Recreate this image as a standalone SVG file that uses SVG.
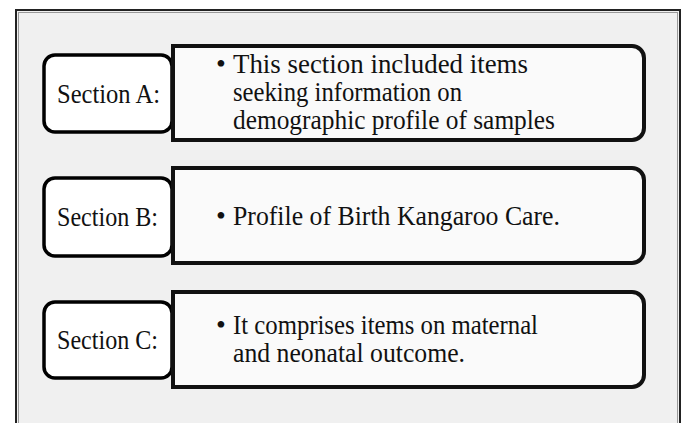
<svg xmlns="http://www.w3.org/2000/svg" width="686" height="423" viewBox="0 0 686 423">
<style>
.lbl{fill:#fff;stroke:#000;stroke-width:3.5}
.bar{fill:#fafafa;stroke:#111;stroke-width:4}
text{font-family:"Liberation Serif","DejaVu Serif",serif;font-size:28px;fill:#111}
</style>
<rect width="686" height="423" fill="#fff"/>
<rect x="16" y="10" width="664" height="420" fill="#f0f0f0" stroke="#222" stroke-width="2"/>
<rect x="18.5" y="12.5" width="659" height="420" fill="none" stroke="#999" stroke-width="1"/>
<g id="sectionA">
<rect class="lbl" x="44" y="55" width="128" height="77" rx="11"/>
<path class="bar" d="M173,46 H632 A12,12 0 0 1 644,58 V128 A12,12 0 0 1 632,140 H173 Z"/>
<text x="57" y="103" textLength="103" lengthAdjust="spacingAndGlyphs">Section A:</text>
<text x="216" y="73">•</text>
<text x="233" y="73" textLength="295" lengthAdjust="spacingAndGlyphs">This section included items</text>
<text x="233" y="101" textLength="229" lengthAdjust="spacingAndGlyphs">seeking information on</text>
<text x="233" y="129" textLength="322" lengthAdjust="spacingAndGlyphs">demographic profile of samples</text>
</g>
<g id="sectionB">
<rect class="lbl" x="44" y="178" width="128" height="78" rx="11"/>
<path class="bar" d="M173,168 H632 A12,12 0 0 1 644,180 V251 A12,12 0 0 1 632,263 H173 Z"/>
<text x="57" y="226" textLength="101" lengthAdjust="spacingAndGlyphs">Section B:</text>
<text x="216" y="225">•</text>
<text x="233" y="225" textLength="327" lengthAdjust="spacingAndGlyphs">Profile of Birth Kangaroo Care.</text>
</g>
<g id="sectionC">
<rect class="lbl" x="44" y="302" width="128" height="76" rx="11"/>
<path class="bar" d="M173,292 H632 A12,12 0 0 1 644,304 V375 A12,12 0 0 1 632,387 H173 Z"/>
<text x="57" y="349" textLength="101" lengthAdjust="spacingAndGlyphs">Section C:</text>
<text x="216" y="334">•</text>
<text x="233" y="334" textLength="305" lengthAdjust="spacingAndGlyphs">It comprises items on maternal</text>
<text x="233" y="362" textLength="232" lengthAdjust="spacingAndGlyphs">and neonatal outcome.</text>
</g>
<g id="connectors"></g>
</svg>
